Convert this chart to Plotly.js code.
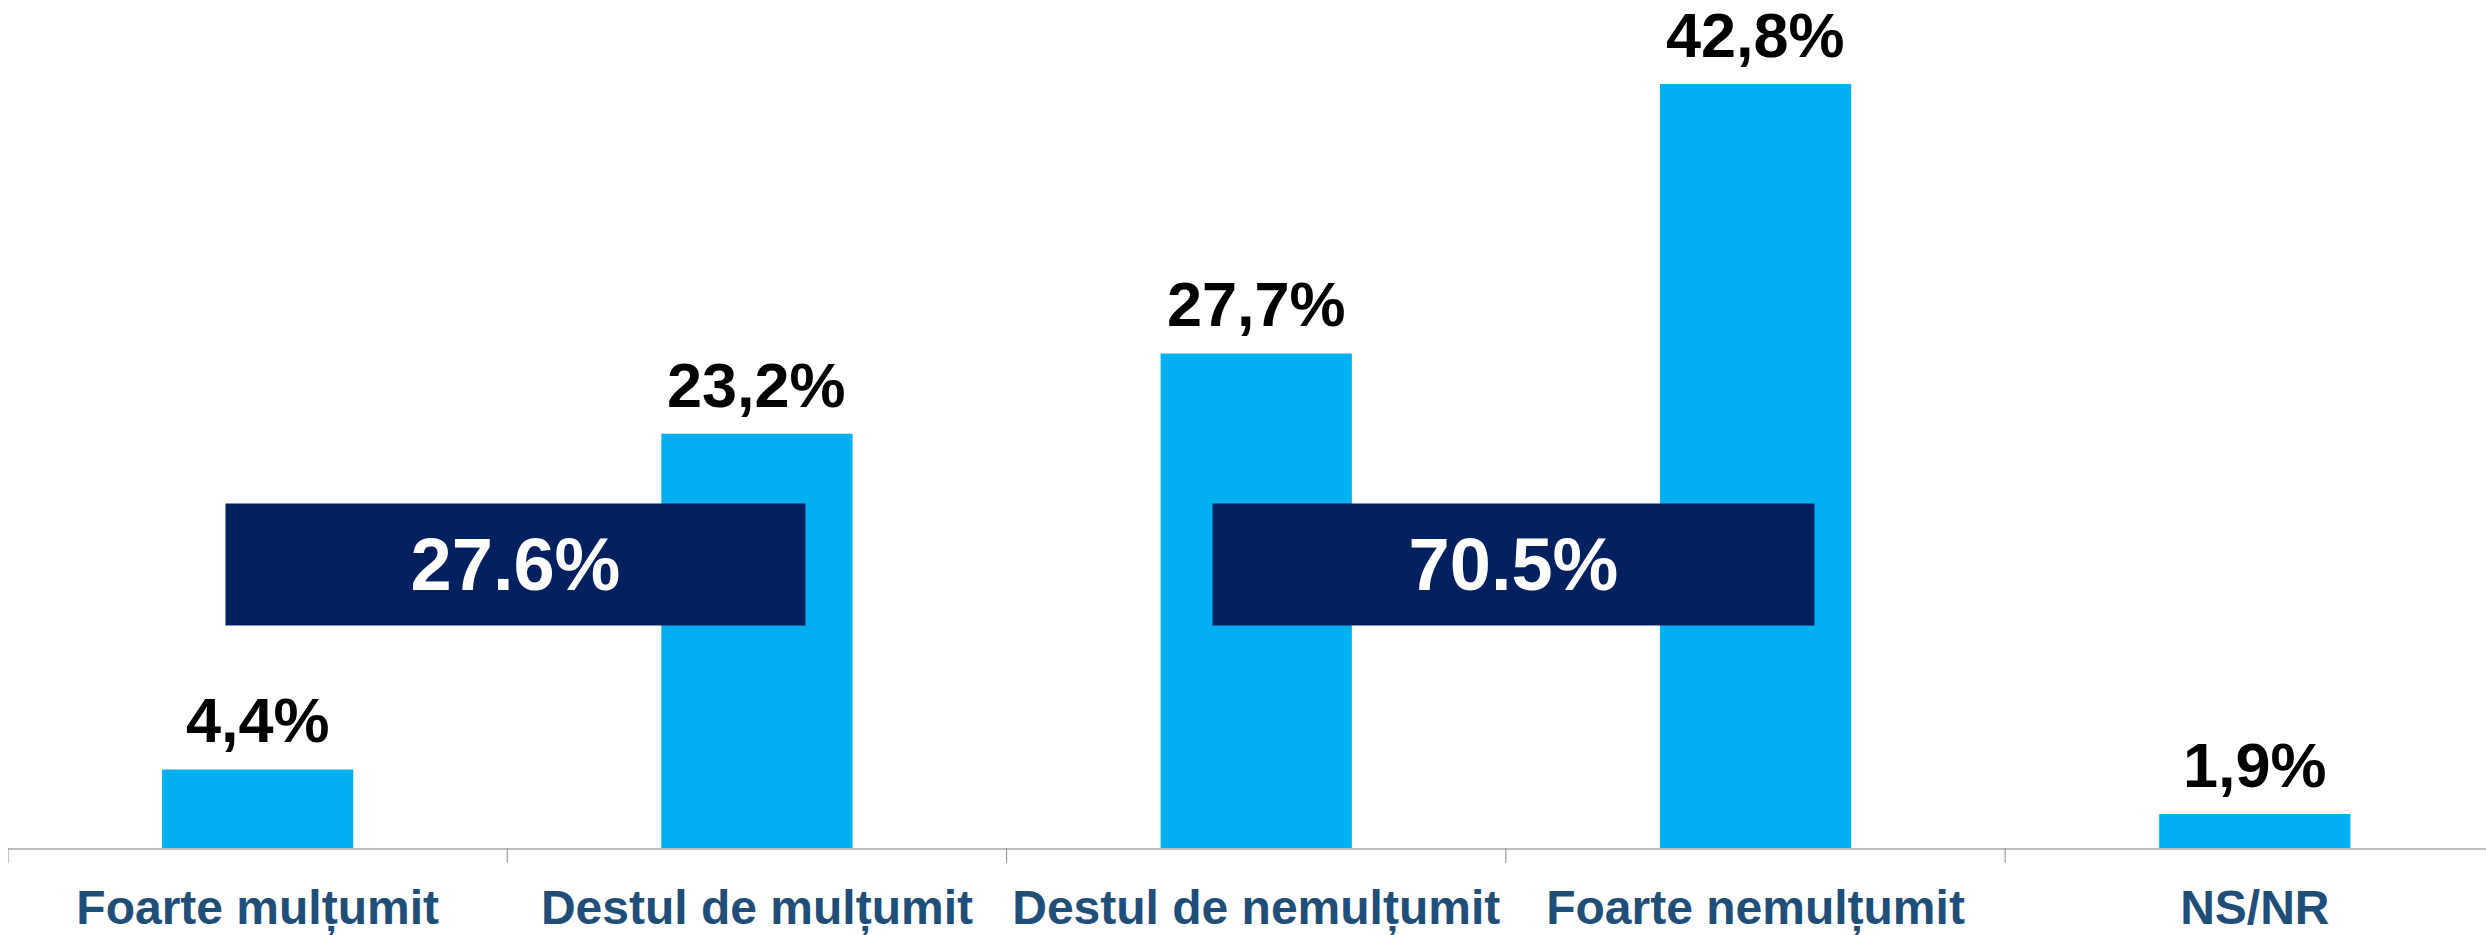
<!DOCTYPE html>
<html>
<head>
<meta charset="utf-8">
<script src="https://cdn.plot.ly/plotly-3.0.1.min.js"></script>
<style>html,body{margin:0;padding:0;background:#fff;}#chart{width:2486px;height:935px;}</style>
</head>
<body>
<div id="chart"></div>
<script>
const categories = ["Foarte mulțumit", "Destul de mulțumit", "Destul de nemulțumit", "Foarte nemulțumit", "NS/NR"];
const values = [4.4, 23.2, 27.7, 42.8, 1.9];
const valueLabels = ["4,4%", "23,2%", "27,7%", "42,8%", "1,9%"];
const groupTotals = ["27.6%", "70.5%"];   // satisfied, dissatisfied
const groupCenters = [0.5, 2.5];          // between the categories they sum

const FONT = "Liberation Sans, Arial, sans-serif";

const trace = {
  type: "bar",
  x: categories.map((c, i) => i),
  y: values,
  marker: {color: "#00B0F0"},
  width: 0.383,
  hoverinfo: "none"
};

const valueAnnotations = values.map((v, i) => ({
  x: i, xref: "x", y: v, yref: "y",
  text: valueLabels[i],
  showarrow: false,
  xanchor: "center", yanchor: "bottom",
  yshift: 12,
  font: {family: FONT, size: 63, color: "#000000", weight: 700}
}));

const boxWidths = [579, 601];
const totalAnnotations = groupTotals.map((t, i) => ({
  x: groupCenters[i], xref: "x",
  y: 15.9, yref: "y",
  xshift: 8,
  text: t,
  showarrow: false,
  bgcolor: "#002060",
  width: boxWidths[i], height: 121,
  borderpad: 0,
  font: {family: FONT, size: 74, color: "#FFFFFF", weight: 700},
  xanchor: "center", yanchor: "middle"
}));

const layout = {
  width: 2486, height: 935,
  margin: {l: 8, r: 0, t: 0, b: 87},
  paper_bgcolor: "#FFFFFF",
  plot_bgcolor: "#FFFFFF",
  showlegend: false,
  xaxis: {
    type: "linear",
    range: [-0.5, 4.463],
    tickmode: "array",
    tickvals: [0, 1, 2, 3, 4],
    ticktext: categories,
    showgrid: false,
    zeroline: false,
    showline: true, linecolor: "#BFBFBF", linewidth: 2,
    ticks: "",
    tickfont: {family: FONT, size: 48, color: "#1F4E79", weight: 700},
    ticklabelstandoff: 16
  },
  yaxis: {
    range: [0, 47.5],
    visible: false,
    fixedrange: true
  },
  shapes: [-0.5, 0.5, 1.5, 2.5, 3.5].map(b => ({
    type: "line", xref: "x", yref: "paper",
    x0: b, x1: b, y0: 0, y1: -15/848,
    line: {color: "#8C8C8C", width: 1}
  })),
  annotations: valueAnnotations.concat(totalAnnotations)
};

Plotly.newPlot("chart", [trace], layout, {displayModeBar: false, staticPlot: true});
</script>
</body>
</html>
